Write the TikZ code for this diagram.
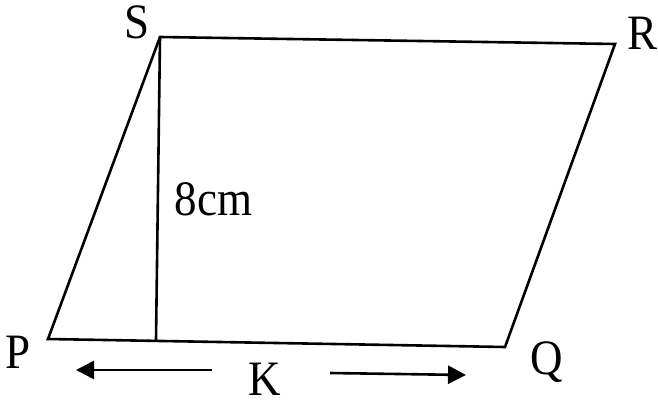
\documentclass[tikz,border=0pt]{standalone}
\usepackage{fontspec}
\setmainfont{Liberation Serif}
\usetikzlibrary{arrows.meta}
\newcommand{\tallx}[1]{\scalebox{1}[1.1]{#1}}
\begin{document}
\begin{tikzpicture}[x=1pt,y=-1pt,
  edge/.style={line width=2.6pt,line join=miter},
  dim/.style={line width=2.6pt,-{Triangle[length=18pt,width=18pt]}},
  lbl/.style={font=\fontsize{45}{45}\selectfont,inner sep=0pt,anchor=base}]
\useasboundingbox (0,0) rectangle (658,401);
\coordinate (P) at (48,339);
\coordinate (Q) at (505,347);
\coordinate (R) at (615,44);
\coordinate (S) at (160,37);
\coordinate (F) at (156,340);
\draw[edge] (P) -- (Q) -- (R) -- (S) -- cycle;
\draw[edge] (S) -- (F);
\node[lbl] (lS) at (137,39) {\tallx{S}};
\node[lbl] (lR) at (642,50) {\tallx{R}};
\node[lbl] (lP) at (18,368) {\tallx{P}};
\node[lbl] (lQ) at (547,374) {\tallx{Q}};
\node[lbl] (lK) at (265,395) {\tallx{K}};
\node[lbl] (lh) at (213.5,215) {\tallx{8cm}};
\coordinate (a1) at (212,370);
\coordinate (a2) at (76,370);
\coordinate (b1) at (330,373);
\coordinate (b2) at (466,375);
\draw[dim] (a1) -- (a2);
\draw[dim] (b1) -- (b2);
\end{tikzpicture}
\end{document}
